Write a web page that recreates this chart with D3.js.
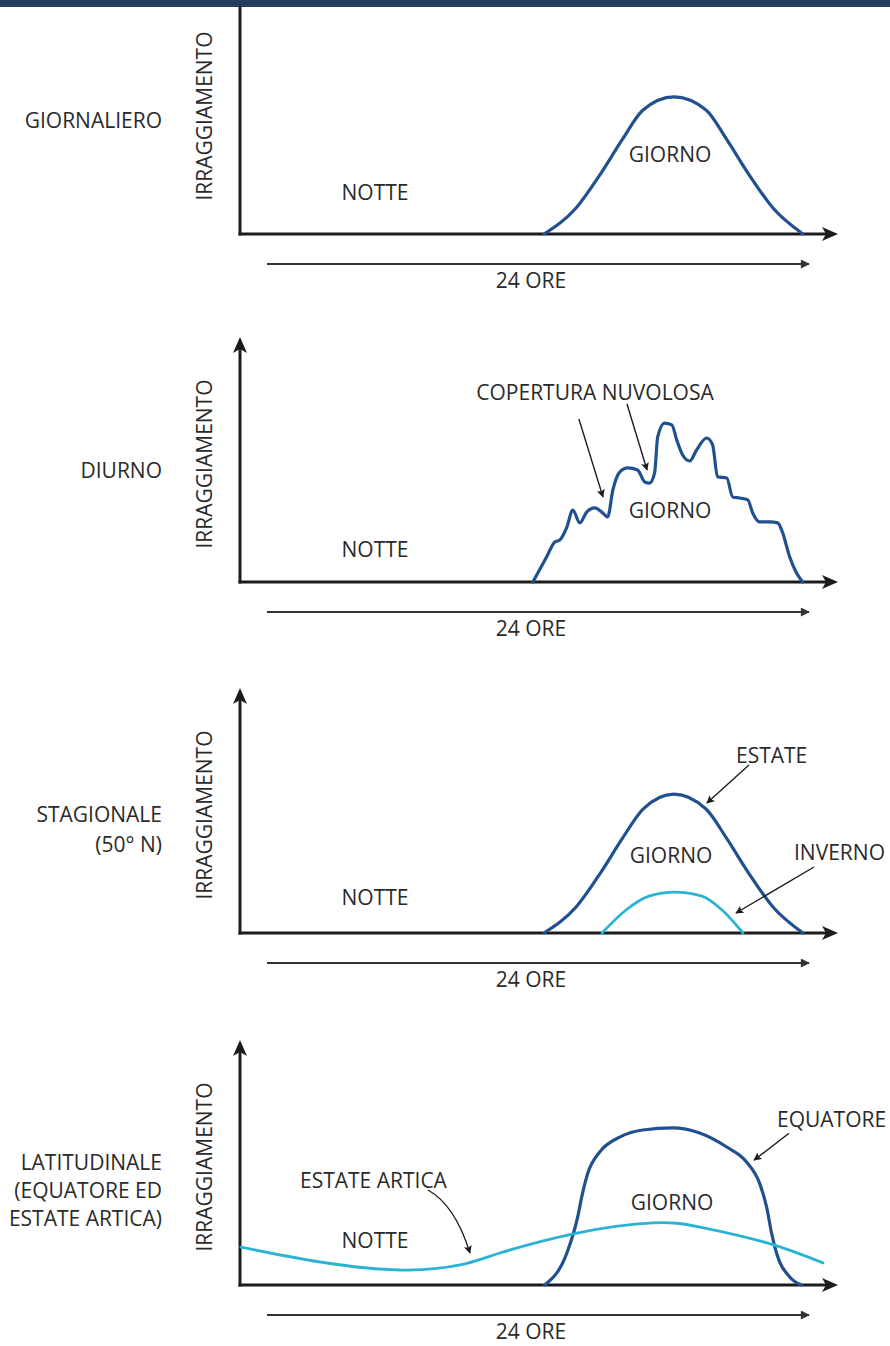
<!DOCTYPE html>
<html>
<head>
<meta charset="utf-8">
<script src="https://cdn.jsdelivr.net/npm/d3@7"></script>
<style>
  body { margin: 0; background: #fff; }
  svg { display: block; }
  text { font-family: "Open Sans", sans-serif; font-size: 21px; fill: #2a2a2a; }
</style>
</head>
<body>
<svg id="chart" width="890" height="1346"></svg>
<script>
// x = hour of the day (0-24), y = relative irradiance (0-100)
const giornaliero = [[12.89,0],[14.25,11.3],[15.31,26.5],[16.2,40.9],[17.09,53.9],[18.4,59.6],
  [19.76,53.9],[20.65,40.9],[21.54,26.5],[22.6,11.3],[23.87,0]];

const diurno = [[12.42,0],[13.0,10.9],[13.35,17.4],[13.56,18.3],[13.86,23.9],[14.11,31.3],[14.41,25.7],
  [14.7,30.4],[15.04,32.2],[15.34,30.4],[15.59,28.3],[15.81,40],[16.1,47.8],[16.44,49.6],[16.86,48.7],
  [17.16,43.5],[17.37,43],[17.58,47.4],[17.71,63],[18.0,69.1],[18.31,68.3],[18.52,61.7],[18.77,55.2],
  [19.07,52.6],[19.36,57.4],[19.79,62.6],[20.04,59.6],[20.25,45.7],[20.64,45.2],[20.89,37],[21.19,36.5],
  [21.53,35.7],[21.74,30],[22.03,26.1],[22.46,26.1],[22.8,25.7],[23.0,21.7],[23.31,10.9],[23.6,3.9],[23.86,0]];

const estate = [[12.89,0],[14.25,11.3],[15.31,26.5],[16.2,40.9],[17.09,53.9],[18.4,60.4],
  [19.76,53.9],[20.65,40.9],[21.54,26.5],[22.6,11.3],[23.87,0]];
const inverno = [[15.35,0],[16.37,10],[17.34,16],[18.44,17.8],[19.59,16],[20.44,10],[21.33,0]];

const equatore = [[12.92,0],[13.86,13.9],[14.32,29.6],[14.49,38.3],[14.75,48.7],[15.25,57.8],[16.1,64.3],
  [17.08,67.4],[18.35,68.3],[19.49,66.1],[20.64,60],[21.48,53.5],[22.03,44.3],[22.33,33.9],[22.54,22.6],
  [22.75,13.9],[23.31,3.5],[23.81,0]];
const estateArtica = [[0.04,16.5],[3.4,10],[6.87,6.5],[9.33,8.7],[11.02,13.9],[14.29,22.6],[17.51,27],
  [19.5,25.2],[22.35,18.3],[24.72,9.6]];

// annotation arrows: [from, to] in hour / irradiance units
const frecceDiurno = [[[14.37,70.9],[15.39,37]], [[16.41,77.4],[17.26,48.7]]];
const frecceStagionale = [[[21.58,73],[19.8,56.5]], [[24.34,28.7],[21.03,8.7]]];
const frecceLatitudinale = [[[23.28,66],[21.8,54.3]]];

const dark = "#21508f", light = "#2bb3d4", ink = "#1c1c1c";

const panels = [
  { base: 234, title: [["GIORNALIERO", -106]],
    curves: [{ data: giornaliero, color: dark, w: 3.2 }],
    labels: [["GIORNO", 670, -72, "middle"], ["NOTTE", 375, -34, "middle"]],
    arrows: [] },
  { base: 582, title: [["DIURNO", -104]],
    curves: [{ data: diurno, color: dark, w: 3.2 }],
    labels: [["COPERTURA NUVOLOSA", 595, -182, "middle"], ["GIORNO", 670, -64, "middle"], ["NOTTE", 375, -25, "middle"]],
    arrows: frecceDiurno },
  { base: 933, title: [["STAGIONALE", -111], ["(50° N)", -81]],
    curves: [{ data: estate, color: dark, w: 3.2 }, { data: inverno, color: light, w: 2.8 }],
    labels: [["ESTATE", 736, -170, "start"], ["INVERNO", 794, -73, "start"], ["GIORNO", 671, -70, "middle"], ["NOTTE", 375, -28, "middle"]],
    arrows: frecceStagionale },
  { base: 1285, title: [["LATITUDINALE", -115], ["(EQUATORE ED", -87], ["ESTATE ARTICA)", -59]],
    curves: [{ data: equatore, color: dark, w: 3.2 }, { data: estateArtica, color: light, w: 2.8, smooth: true }],
    labels: [["EQUATORE", 777, -158, "start"], ["ESTATE ARTICA", 300, -97, "start"], ["GIORNO", 672, -75, "middle"], ["NOTTE", 375, -37, "middle"]],
    arrows: frecceLatitudinale, curvedArrow: [[7.97,41.3],[9.12,34.8],[9.75,13.9]] }
];

const svg = d3.select("#chart");
const x = d3.scaleLinear().domain([0, 24]).range([240, 806]);

// arrowheads
const defs = svg.append("defs");
defs.append("marker").attr("id", "head").attr("viewBox", "0 0 10 10")
  .attr("refX", 9).attr("refY", 5).attr("markerWidth", 10).attr("markerHeight", 8)
  .attr("markerUnits", "userSpaceOnUse").attr("orient", "auto")
  .append("path").attr("d", "M0,0 L10,5 L0,10 L2,5 Z").attr("fill", ink);
defs.append("marker").attr("id", "small").attr("viewBox", "0 0 10 10")
  .attr("refX", 9).attr("refY", 5).attr("markerWidth", 12).attr("markerHeight", 9)
  .attr("markerUnits", "userSpaceOnUse").attr("orient", "auto")
  .append("path").attr("d", "M0,0 L10,5 L0,10 Z").attr("fill", "#333");

function axisHead(g, tx, ty, angle) {
  g.append("path")
    .attr("d", "M0,0 L-16,-7 L-12,0 L-16,7 Z")
    .attr("fill", ink)
    .attr("transform", `translate(${tx},${ty}) rotate(${angle})`);
}

panels.forEach(p => {
  const y = d3.scaleLinear().domain([0, 100]).range([p.base, p.base - 230]);
  const g = svg.append("g");

  // axes
  g.append("line").attr("x1", 240).attr("x2", 240).attr("y1", p.base + 1.5).attr("y2", p.base - 236)
    .attr("stroke", ink).attr("stroke-width", 3);
  axisHead(g, 240, p.base - 245, -90);
  g.append("line").attr("x1", 238.5).attr("x2", 828).attr("y1", p.base).attr("y2", p.base)
    .attr("stroke", ink).attr("stroke-width", 3);
  axisHead(g, 838, p.base, 0);

  // 24 hour arrow
  g.append("line").attr("x1", 267).attr("x2", 809).attr("y1", p.base + 30).attr("y2", p.base + 30)
    .attr("stroke", "#333").attr("stroke-width", 2).attr("marker-end", "url(#small)");
  g.append("text").attr("x", 531).attr("y", p.base + 54).attr("text-anchor", "middle").text("24 ORE");

  // y label
  g.append("text").attr("transform", `translate(212,${p.base - 118}) rotate(-90)`)
    .attr("text-anchor", "middle").text("IRRAGGIAMENTO");

  // left title
  g.selectAll("text.title").data(p.title).join("text").attr("class", "title")
    .attr("x", 162).attr("y", d => p.base + d[1]).attr("text-anchor", "end").text(d => d[0]);

  // curves
  const line = d3.line().x(d => x(d[0])).y(d => y(d[1])).curve(d3.curveMonotoneX);
  const soft = d3.line().x(d => x(d[0])).y(d => y(d[1])).curve(d3.curveNatural);
  g.selectAll("path.curve").data(p.curves).join("path").attr("class", "curve")
    .attr("d", d => (d.smooth ? soft : line)(d.data)).attr("fill", "none")
    .attr("stroke", d => d.color).attr("stroke-width", d => d.w)
    .attr("stroke-linejoin", "round").attr("stroke-linecap", "round");

  // labels
  g.selectAll("text.lab").data(p.labels).join("text").attr("class", "lab")
    .attr("x", d => d[1]).attr("y", d => p.base + d[2]).attr("text-anchor", d => d[3]).text(d => d[0]);

  // annotation arrows
  g.selectAll("line.note").data(p.arrows).join("line").attr("class", "note")
    .attr("x1", d => x(d[0][0])).attr("y1", d => y(d[0][1]))
    .attr("x2", d => x(d[1][0])).attr("y2", d => y(d[1][1]))
    .attr("stroke", ink).attr("stroke-width", 1.4).attr("marker-end", "url(#head)");

  if (p.curvedArrow) {
    const c = p.curvedArrow;
    g.append("path")
      .attr("d", `M${x(c[0][0])},${y(c[0][1])} Q${x(c[1][0])},${y(c[1][1])} ${x(c[2][0])},${y(c[2][1])}`)
      .attr("fill", "none").attr("stroke", ink).attr("stroke-width", 1.4).attr("marker-end", "url(#head)");
  }
});

// top band
svg.append("rect").attr("x", 0).attr("y", 0).attr("width", 890).attr("height", 7).attr("fill", "#243e5f");
</script>
</body>
</html>
